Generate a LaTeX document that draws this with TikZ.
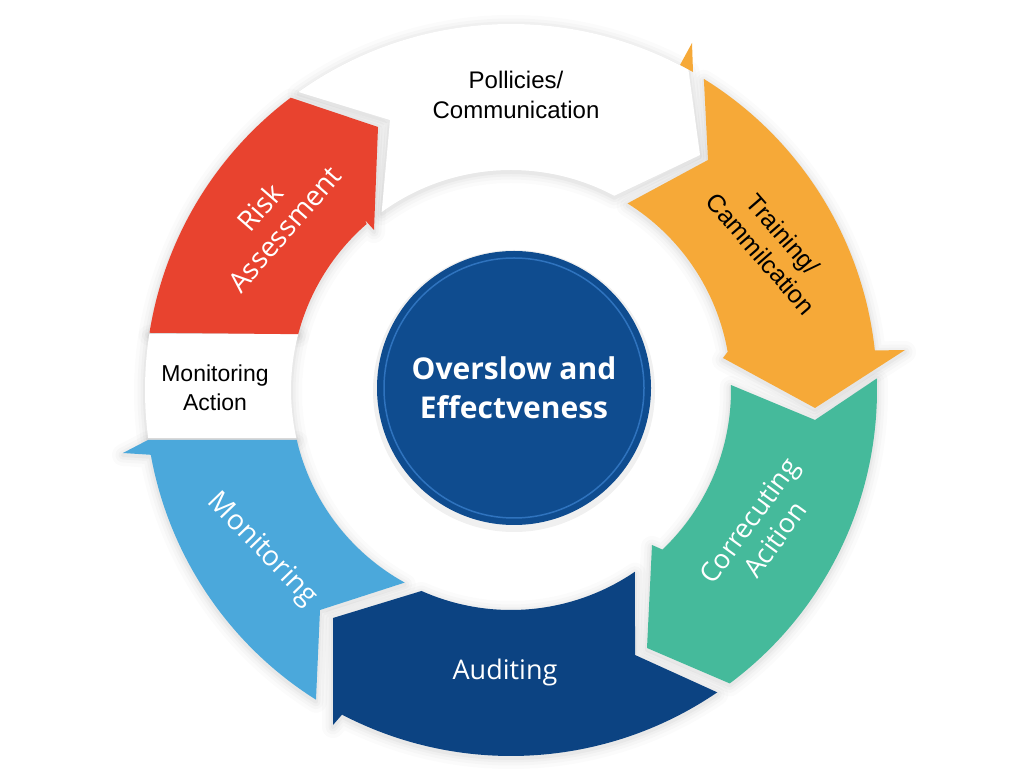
\documentclass[tikz,border=0pt]{standalone}
\usepackage{fontspec}
\setmainfont{Liberation Sans}
\newfontfamily\osans{Open Sans}
\definecolor{redc}{HTML}{E8432F}
\definecolor{orangec}{HTML}{F6A938}
\definecolor{greenc}{HTML}{45BA9B}
\definecolor{navyc}{HTML}{0C4382}
\definecolor{bluec}{HTML}{4BA8DB}
\definecolor{circc}{HTML}{0F4C8F}
\definecolor{ringc}{HTML}{2F73BE}
\def\pRed{(171:366) arc[start angle=171, end angle=127, radius=366] -- (-133,263) -- (-137,160) -- (-146,170) -- (131:220) arc[start angle=131, end angle=165.3, radius=220] -- cycle}
\def\pWa{(125.5:366) arc[start angle=125.5, end angle=61, radius=366] -- (189,235) -- (62:220) arc[start angle=62, end angle=126, radius=220] -- (-121,270) -- cycle}
\def\pOr{(58.2:366) arc[start angle=58.2, end angle=6.2, radius=366] -- (394,40) -- (304,-18) -- (212,32) -- (10:220) arc[start angle=10, end angle=58, radius=220] -- (197,230) -- cycle}
\def\pSp{(169,325) -- (181,347) -- (182,318) -- cycle}
\def\pGr{(1.8:366) arc[start angle=1.8, end angle=-53.3, radius=366] -- (136,-258) -- (141,-155) -- (-46.5:220) arc[start angle=-46.5, end angle=1.3, radius=220] -- (304,-30) -- cycle}
\def\pNa{(-55.7:366) arc[start angle=-55.7, end angle=-117.5, radius=366] -- (-178,-335) -- (-178,-228) -- (-114:220) arc[start angle=-114, end angle=-55.7, radius=220] -- (124,-265) -- cycle}
\def\pBl{(-122.2:366) arc[start angle=-122.2, end angle=-169.8, radius=366] -- (-388,-63) -- (-363,-50) -- (-166.9:220) arc[start angle=-166.9, end angle=-118.9, radius=220] -- (-191,-220) -- cycle}
\def\pWb{(171.2:366) arc[start angle=171.2, end angle=187.5, radius=366] -- (192.6:220) arc[start angle=192.6, end angle=165.2, radius=220] -- cycle}
\newcommand\softshadow[1]{\foreach \w/\o in {22/0.015,15/0.02,9/0.025,4/0.03}{\draw[black, opacity=\o, line width=\w, line join=round, yshift=-2] #1;}}
\tikzset{
  blacklabel/.style={text=black, align=center, font=\fontsize{24}{30}\selectfont},
  whitelabel/.style={text=white, align=center},
}
\begin{document}
\begin{tikzpicture}[x=1pt,y=1pt]
\useasboundingbox (0,0) rectangle (1024,768);
\fill[white] (0,0) rectangle (1024,768);
\begin{scope}[shift={(511,378)}]
  % shadows
  \softshadow{\pWa}
  \softshadow{\pOr}
  \softshadow{\pGr}
  \softshadow{\pNa}
  \softshadow{\pBl}
  \softshadow{\pWb}
  \softshadow{\pRed}
  % segments
  \fill[orangec] \pSp;
  \fill[white] \pWa;
  \fill[orangec] \pOr;
  \fill[greenc] \pGr;
  \fill[navyc] \pNa;
  \fill[bluec] \pBl;
  \fill[white] \pWb;
  \fill[redc] \pRed;
  % centre
  \fill[black, opacity=0.06] (3,-1) circle[radius=141];
  \node[circle, fill=circc, minimum size=274, inner sep=0] (core) at (3,2) {};
  \draw[ringc, line width=1.5] (core.center) circle[radius=130];
  \node[whitelabel, font=\osans\bfseries\fontsize{30}{39}\selectfont] (coretext) at (3,2) {Overslow and\\Effectveness};
  % labels
  \node[blacklabel] (pol) at (5,295) {Pollicies/\\Communication};
  \node[whitelabel, font=\osans\fontsize{28}{33}\selectfont, rotate=49] (risk) at (-239,172) {Risk\\Assessment};
  \node[blacklabel, font=\fontsize{25}{30}\selectfont, rotate=-49] (train) at (261,146) {Training/\\Cammilcation};
  \node[whitelabel, font=\osans\fontsize{27}{32}\selectfont, rotate=54] (corr) at (251,-140) {Correcuting\\Acition};
  \node[whitelabel, font=\osans\fontsize{27}{32}\selectfont] (aud) at (-6,-282) {Auditing};
  \node[whitelabel, font=\osans\fontsize{28}{33}\selectfont, rotate=-46] (mon) at (-249,-160) {Monitoring};
  \node[blacklabel, font=\fontsize{23}{29}\selectfont] (monact) at (-296,2) {Monitoring\\Action};
\end{scope}
\end{tikzpicture}
\end{document}
